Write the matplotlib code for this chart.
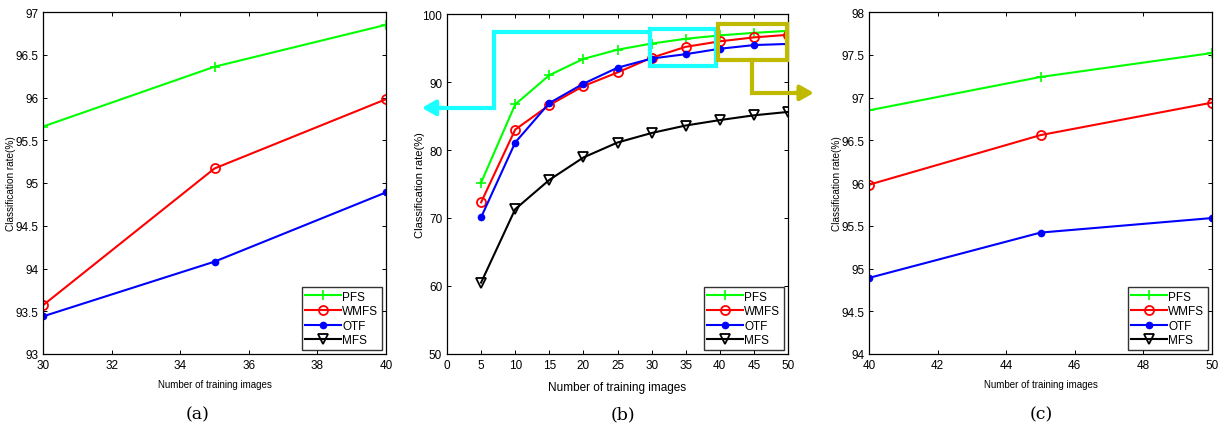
import matplotlib
matplotlib.use("Agg")
import matplotlib.pyplot as plt
from matplotlib.patches import Rectangle

plt.rcParams['font.family'] = ['Liberation Sans', 'DejaVu Sans']

# ---------------- data ----------------
series_names = ["PFS", "WMFS", "OTF", "MFS"]

x_full = [5, 10, 15, 20, 25, 30, 35, 40, 45, 50]
pfs_full = [75.2, 86.7, 91.0, 93.4, 94.75, 95.65, 96.36, 96.85, 97.23, 97.52]
wmfs_full = [72.3, 83.0, 86.6, 89.4, 91.4, 93.57, 95.17, 95.98, 96.56, 96.94]
otf_full = [70.1, 81.1, 86.9, 89.75, 92.1, 93.45, 94.09, 94.89, 95.43, 95.60]
mfs_full = [60.5, 71.3, 75.6, 78.9, 81.1, 82.5, 83.6, 84.4, 85.1, 85.6]

x_a = [30, 35, 40]
pfs_a = [95.66, 96.36, 96.85]
wmfs_a = [93.57, 95.17, 95.98]
otf_a = [93.44, 94.08, 94.89]

x_c = [40, 45, 50]
pfs_c = [96.85, 97.24, 97.52]
wmfs_c = [95.98, 96.56, 96.94]
otf_c = [94.89, 95.42, 95.59]

captions = ["(a)", "(b)", "(c)"]

# ---------------- styles ----------------
styles = {
    "PFS": dict(color=(0.0, 1.0, 0.0), marker='+', markersize=7, mew=1.2),
    "WMFS": dict(color=(1.0, 0.0, 0.0), marker='o', markersize=6.5, mfc='none', mew=1.3),
    "OTF": dict(color=(0.0, 0.0, 1.0), marker='.', markersize=9),
    "MFS": dict(color='black', marker='v', markersize=7.5, mfc='none', mew=1.3),
}

W, H = 1224, 439
fig = plt.figure(figsize=(W / 100, H / 100), dpi=100)


def add_ax(left, top, right, bottom):
    return fig.add_axes([left / W, 1 - bottom / H, (right - left) / W, (bottom - top) / H])


def style_ax(ax, xlsize, ylsize, ylx, xly):
    ax.tick_params(direction='in', top=True, right=True, labelsize=8.5, length=3, width=0.7)
    for s in ax.spines.values():
        s.set_linewidth(0.9)
    ax.set_xlabel("Number of training images", fontsize=xlsize)
    ax.set_ylabel("Classification rate(%)", fontsize=ylsize)
    ax.yaxis.set_label_coords(ylx, 0.5)
    ax.xaxis.set_label_coords(0.5, xly)


def legend(ax):
    handles = []
    for n in series_names:
        st = styles[n]
        h, = ax.plot([], [], lw=1.5, label=n, **st)
        handles.append(h)
    leg = ax.legend(handles=handles, loc='lower right', fontsize=8.5, frameon=True,
                    fancybox=False, edgecolor='black', borderpad=0.3, labelspacing=0.22,
                    handlelength=3.0, handletextpad=0.15, borderaxespad=0.35)
    leg.get_frame().set_linewidth(1.0)


# ---- panel a ----
ax1 = add_ax(43, 13, 386, 355)
for n, y in zip(["PFS", "WMFS", "OTF"], [pfs_a, wmfs_a, otf_a]):
    ax1.plot(x_a, y, lw=1.5, **styles[n])
ax1.set_xlim(30, 40)
ax1.set_ylim(93, 97)
ax1.set_xticks([30, 32, 34, 36, 38, 40])
ax1.set_yticks([93, 93.5, 94, 94.5, 95, 95.5, 96, 96.5, 97])
ax1.set_yticklabels(["93", "93.5", "94", "94.5", "95", "95.5", "96", "96.5", "97"])
style_ax(ax1, 7, 7.2, -0.079, -0.073)
legend(ax1)

# ---- panel b ----
ax2 = add_ax(447, 15, 788, 355)
for n, y in zip(series_names, [pfs_full, wmfs_full, otf_full, mfs_full]):
    ax2.plot(x_full, y, lw=1.5, **styles[n])
ax2.set_xlim(0, 50)
ax2.set_ylim(50, 100)
ax2.set_xticks(range(0, 51, 5))
ax2.set_yticks(range(50, 101, 10))
style_ax(ax2, 8.5, 8, -0.065, -0.079)
legend(ax2)

cyan = (0.1, 1.0, 1.0)
olive = (0.75, 0.73, 0.0)
ax2.add_patch(Rectangle((29.7, 92.35), 9.8, 5.45, fill=False, ec=cyan, lw=3, zorder=5))
ax2.plot([29.7, 6.85, 6.85, -1.0], [97.35, 97.35, 86.2, 86.2], color=cyan, lw=3,
         clip_on=False, zorder=5, solid_joinstyle='miter')
ax2.annotate("", xy=(-3.7, 86.2), xytext=(-0.5, 86.2), annotation_clip=False,
             arrowprops=dict(arrowstyle='-|>,head_length=0.8,head_width=0.45', color=cyan,
                             lw=3, shrinkA=0, shrinkB=0), zorder=5)
ax2.add_patch(Rectangle((39.8, 93.3), 10.0, 5.2, fill=False, ec=olive, lw=3, zorder=5,
                        clip_on=False))
ax2.plot([44.7, 44.7, 51.5], [93.3, 88.4, 88.4], color=olive, lw=3, clip_on=False,
         zorder=5, solid_joinstyle='miter')
ax2.annotate("", xy=(53.8, 88.4), xytext=(51.0, 88.4), annotation_clip=False,
             arrowprops=dict(arrowstyle='-|>,head_length=0.8,head_width=0.45', color=olive,
                             lw=3, shrinkA=0, shrinkB=0), zorder=5)

# ---- panel c ----
ax3 = add_ax(869, 13, 1212, 355)
for n, y in zip(["PFS", "WMFS", "OTF"], [pfs_c, wmfs_c, otf_c]):
    ax3.plot(x_c, y, lw=1.5, **styles[n])
ax3.set_xlim(40, 50)
ax3.set_ylim(94, 98)
ax3.set_xticks([40, 42, 44, 46, 48, 50])
ax3.set_yticks([94, 94.5, 95, 95.5, 96, 96.5, 97, 97.5, 98])
ax3.set_yticklabels(["94", "94.5", "95", "95.5", "96", "96.5", "97", "97.5", "98"])
style_ax(ax3, 7, 7.2, -0.079, -0.073)
legend(ax3)

# ---- captions ----
for cx, cap in zip([198, 623, 1041], captions):
    fig.text(cx / W, 1 - 415 / H, cap, ha='center', va='center', fontsize=12.5,
             family=['DejaVu Serif'])

fig.savefig("out.png", dpi=100)
